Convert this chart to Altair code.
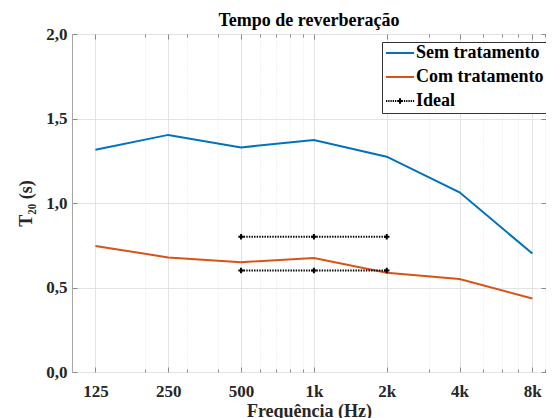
import altair as alt
import pandas as pd

freqs = [125, 250, 500, 1000, 2000, 4000, 8000]
sem_tratamento = [1.315, 1.403, 1.329, 1.373, 1.274, 1.063, 0.701]
com_tratamento = [0.746, 0.678, 0.650, 0.674, 0.587, 0.550, 0.435]
ideal_freqs = [500, 1000, 2000]
ideal_upper = [0.8, 0.8, 0.8]
ideal_lower = [0.6, 0.6, 0.6]
series_names = ["Sem tratamento", "Com tratamento", "Ideal"]
series_colors = ["#0072BD", "#D95319", "#000000"]
x_major = [125, 250, 500, 1000, 2000, 4000, 8000]
x_minor = [200, 300, 400, 600, 700, 800, 900, 3000, 5000, 6000, 7000, 9000]
y_ticks = [0.0, 0.5, 1.0, 1.5, 2.0]

rows = []
for f, v in zip(freqs, sem_tratamento):
    rows.append({"f": f, "t": v, "serie": "Sem tratamento", "seg": "a"})
for f, v in zip(freqs, com_tratamento):
    rows.append({"f": f, "t": v, "serie": "Com tratamento", "seg": "b"})
for f, v in zip(ideal_freqs, ideal_upper):
    rows.append({"f": f, "t": v, "serie": "Ideal", "seg": "c"})
for f, v in zip(ideal_freqs, ideal_lower):
    rows.append({"f": f, "t": v, "serie": "Ideal", "seg": "d"})
df = pd.DataFrame(rows)

FONT = "Liberation Serif"
W, H = 474, 338

xscale = alt.Scale(type="log", domain=[100, 9110], nice=False)
yscale = alt.Scale(domain=[0, 2], nice=False)
cscale = alt.Scale(domain=series_names, range=series_colors)

# dotted line + plus path for the legend symbol of "Ideal"
dots = "".join(f"M{-1 + i * 0.16:.2f},0H{-1 + i * 0.16 + 0.09:.2f}" for i in range(13))
ideal_symbol = dots + "M-0.2,0H0.2M0,-0.2V0.2"
plus_path = "M-1,0H1M0,-1V1"

base = alt.Chart(df)

lab_axis = dict(labelFont=FONT, labelFontWeight="bold", labelFontSize=17, labelColor="#262626",
                titleFont=FONT, titleFontWeight="bold", titleFontSize=18, titleColor="#262626",
                tickColor="#8a8a8a", domain=False)

solid = base.transform_filter("datum.serie != 'Ideal'").mark_line(strokeWidth=2).encode(
    x=alt.X("f:Q", scale=xscale, axis=alt.Axis(
        orient="bottom", values=x_major, title="Frequência (Hz)",
        labelExpr="datum.value >= 1000 ? (datum.value/1000) + 'k' : datum.value",
        grid=True, gridColor="#e3e3e3", ticks=True, tickSize=5, offset=-5,
        labelPadding=11, titlePadding=3, **lab_axis)),
    y=alt.Y("t:Q", scale=yscale, axis=alt.Axis(
        orient="left", values=y_ticks, title="T₂₀ (s)",
        labelExpr="replace(format(datum.value, '.1f'), '.', ',')",
        grid=True, gridColor="#e3e3e3", ticks=True, tickSize=5, offset=-5,
        labelPadding=5, titlePadding=10, **lab_axis)),
    color=alt.Color("serie:N", scale=cscale, sort=series_names, title=None),
    detail="seg:N",
)

ideal_line = base.transform_filter("datum.serie == 'Ideal'").mark_line(
    strokeWidth=2, strokeDash=[1.4, 1.2], color="black").encode(
    x=alt.X("f:Q", scale=xscale, axis=alt.Axis(
        orient="bottom", values=x_minor, title=None, labels=False, domain=False,
        grid=True, gridColor="#e6e6e6", gridDash=[1, 2], ticks=True, tickSize=3,
        offset=-3, tickColor="#8a8a8a")),
    y=alt.Y("t:Q", scale=yscale, axis=None),
    detail="seg:N",
)

ideal_pts = base.transform_filter("datum.serie == 'Ideal'").mark_point(
    shape=plus_path, size=30, strokeWidth=2, color="black", filled=False, opacity=1).encode(
    x=alt.X("f:Q", scale=xscale, axis=alt.Axis(
        orient="top", values=x_major, title=None, labels=False, domain=False,
        grid=False, ticks=True, tickSize=5, offset=-5, tickColor="#8a8a8a")),
    y=alt.Y("t:Q", scale=yscale, axis=alt.Axis(
        orient="right", values=y_ticks, title=None, labels=False, domain=False,
        grid=False, ticks=True, tickSize=5, offset=-5, tickColor="#8a8a8a")),
)

legend_carrier = base.transform_filter("false").mark_point(
    filled=False, strokeWidth=2, opacity=1).encode(
    x=alt.X("f:Q", scale=xscale, axis=alt.Axis(
        orient="top", values=x_minor, title=None, labels=False, domain=False,
        grid=False, ticks=True, tickSize=3, offset=-3, tickColor="#8a8a8a")),
    y=alt.Y("t:Q", scale=yscale, axis=None),
    color=alt.Color("serie:N", scale=cscale, sort=series_names, title=None),
    shape=alt.Shape("serie:N", sort=series_names, title=None,
                    scale=alt.Scale(domain=series_names, range=["stroke", "stroke", ideal_symbol])),
)

chart = alt.layer(solid, ideal_line, ideal_pts, legend_carrier).resolve_axis(
    x="independent", y="independent"
).properties(
    width=W, height=H,
    title=alt.Title("Tempo de reverberação", font=FONT, fontWeight="bold", fontSize=18,
                    color="#000000", anchor="middle", frame="group", offset=0, dy=5),
    autosize=alt.AutoSizeParams(type="none"),
    padding={"left": 64, "top": 26, "right": 0, "bottom": 46},
).configure_view(
    stroke="#a6a6a6", strokeWidth=1
).configure_legend(
    orient="none", legendX=310, legendY=8,
    strokeColor="#333333", fillColor="white", padding=3,
    labelFont=FONT, labelFontWeight="bold", labelFontSize=18, labelColor="#000000",
    labelOffset=1, rowPadding=6, symbolSize=784, symbolStrokeWidth=2, clipHeight=16,
    symbolType="stroke", labelLimit=300,
)

chart.save("out.html", embed_options={"renderer": "svg", "actions": False})
